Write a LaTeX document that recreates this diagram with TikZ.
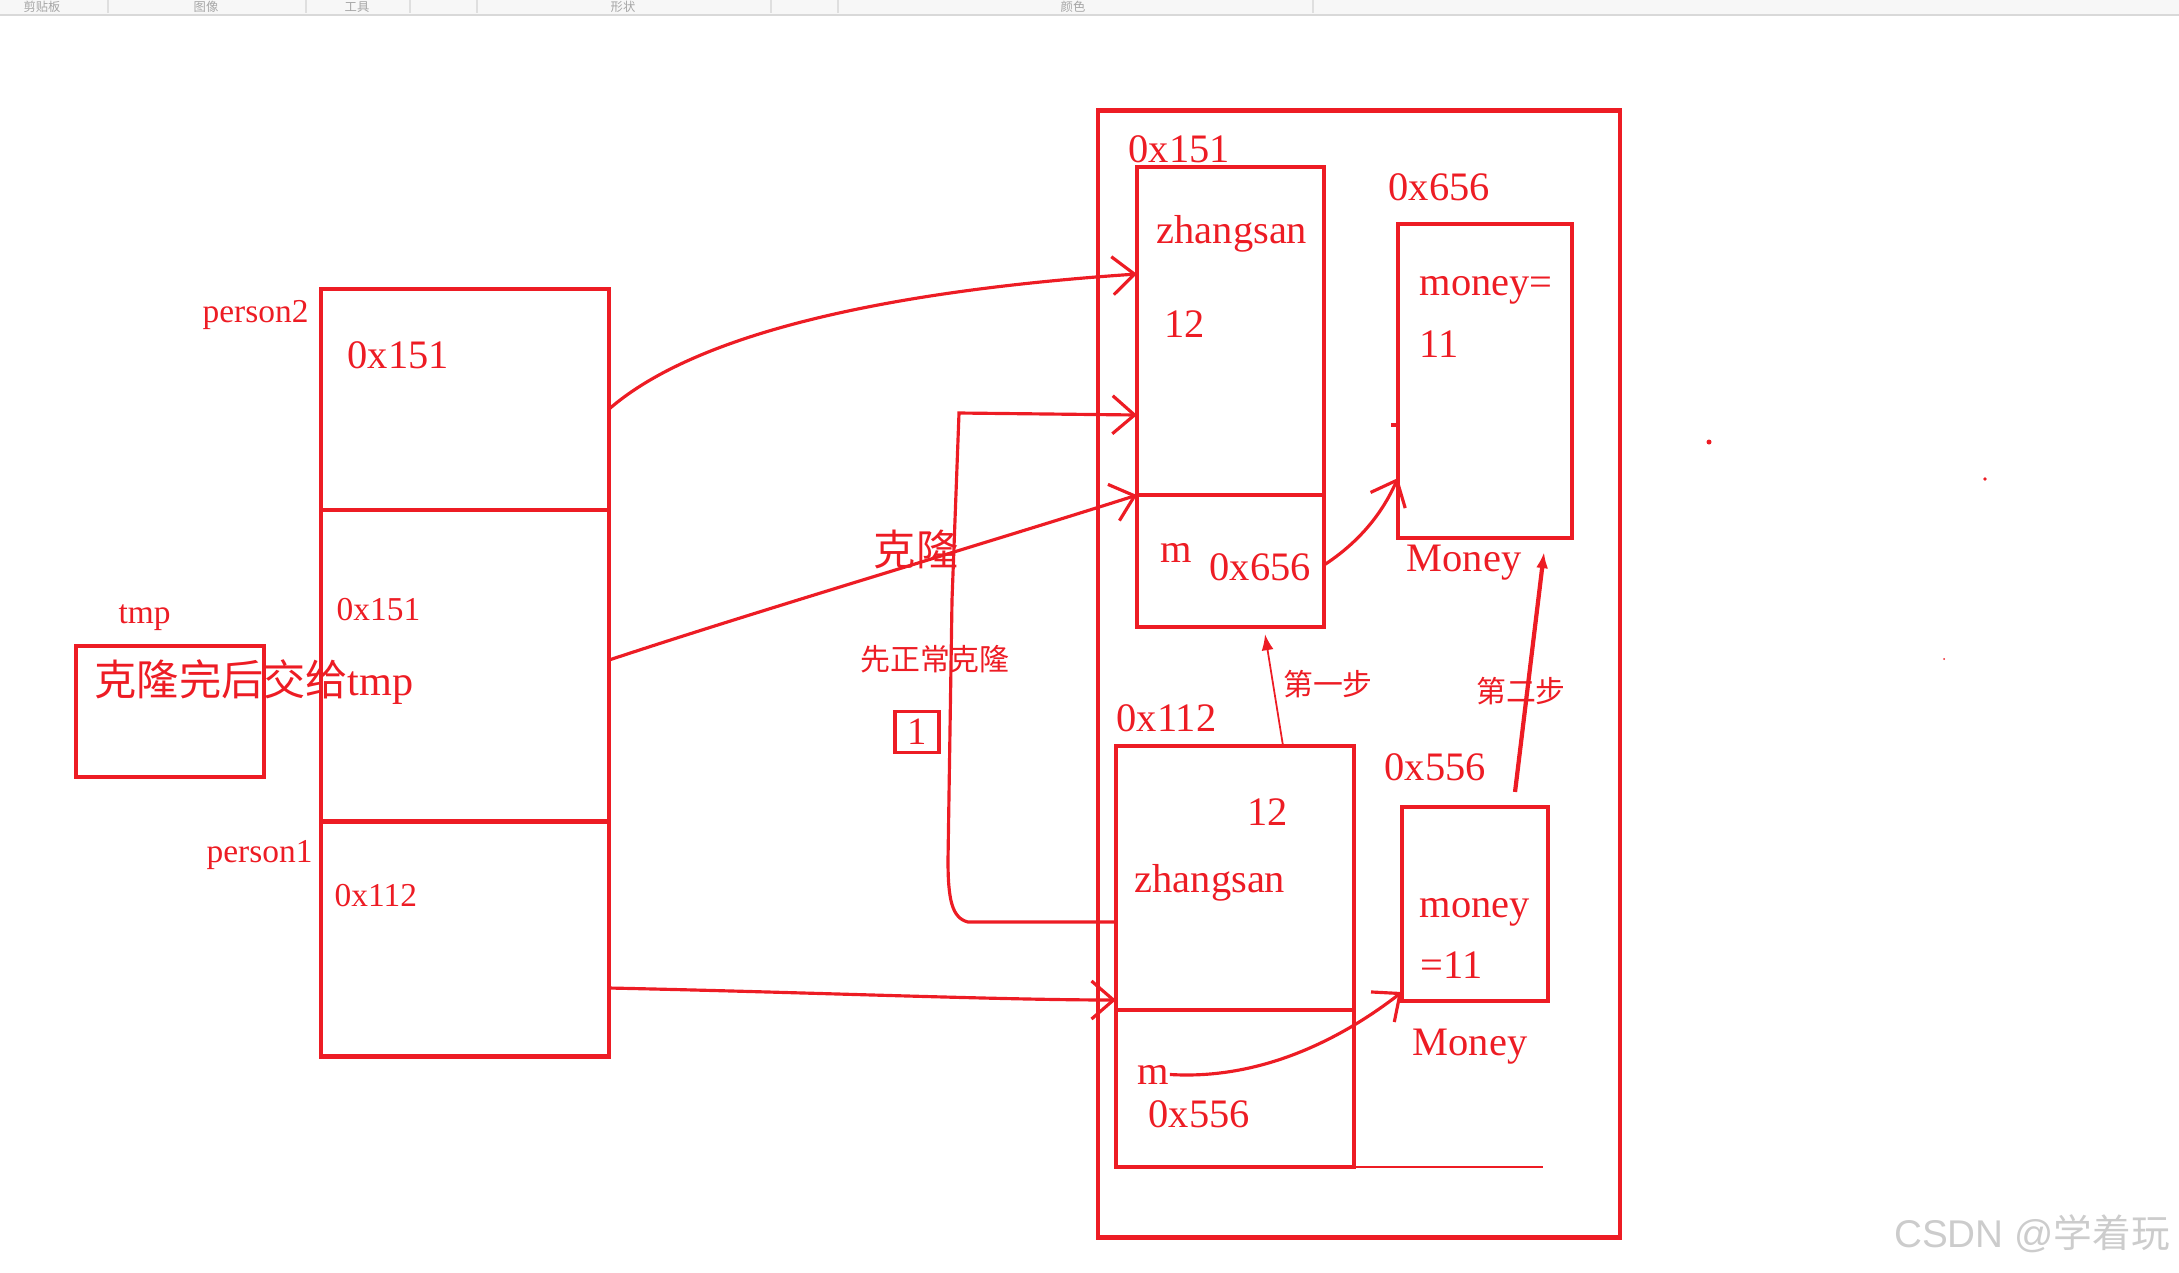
\documentclass[tikz,border=0pt]{standalone}
\usepackage{fontspec}
\setmainfont{Liberation Serif}
\newfontfamily\cjk{Noto Sans CJK SC}
\newfontfamily\wmfont{Liberation Sans}
\usetikzlibrary{positioning,arrows.meta}
\definecolor{paintred}{HTML}{ED1C24}

\begin{document}
\begin{tikzpicture}[
    x=0.01cm, y=-0.01cm,
    box/.style={rectangle, draw=paintred, line width=1.3pt, outer sep=0pt, inner sep=0pt},
    txt/.style={text=paintred, inner sep=0pt, font=\fontsize{11.5pt}{13pt}\selectfont},
    small/.style={text=paintred, inner sep=0pt, font=\fontsize{9.5pt}{11pt}\selectfont},
    cn/.style={text=paintred, inner sep=0pt, font=\cjk\fontsize{8.5pt}{10pt}\selectfont},
    ptr/.style={-{Straight Barb[length=0.22cm,width=0.38cm]}, draw=paintred, line width=0.9pt},
    steptip/.style={-{Latex[length=0.16cm,width=0.12cm]}, draw=paintred}
]
\useasboundingbox (0,0) rectangle (2179,1272);

% toolbar strip
\fill[gray!6] (0,0) rectangle (2179,15);
\draw[gray!30] (0,15) -- (2179,15);
\foreach \x/\t in {42/剪贴板, 206/图像, 357/工具, 623/形状, 1073/颜色}
  \node[font=\cjk\fontsize{3.5pt}{4pt}\selectfont, text=gray!70, inner sep=0pt] (tab\x) at (\x,7) {\t};
\foreach \x in {108,306,410,477,771,838,1313}
  \draw[gray!25] (\x,0) -- (\x,13);

% stack
\node[box, minimum width=2.88cm, minimum height=2.21cm] (slotA) at (465,399.5) {};
\node[box, minimum width=2.88cm, minimum height=3.11cm, below=0pt of slotA] (slotB) {};
\node[box, minimum width=2.88cm, minimum height=2.35cm, below=0pt of slotB] (slotC) {};
\node[box, minimum width=1.88cm, minimum height=1.31cm] (tmpbox) at (170,711.5) {};

\node[small, anchor=base west] (p2name) at (202,322) {person2};
\node[txt, anchor=base west] (p2val) at (347,368) {0x151};
\node[small, anchor=base west] (tmpval) at (336,620) {0x151};
\node[txt, anchor=west, font=\fontsize{12pt}{14pt}\selectfont] (tmpnote) at (94,682) {{\cjk 克隆完后交给}tmp};
\node[small, anchor=base west] (p1name) at (206,862) {person1};
\node[small, anchor=base west] (p1val) at (334,906) {0x112};
\node[small, anchor=base west] (tmpname) at (118,623) {tmp};

% heap
\node[box, minimum width=5.22cm, minimum height=11.26cm] (heap) at (1359,674) {};
\node[box, minimum width=1.87cm, minimum height=3.28cm] (obj2top) at (1230.5,331) {};
\node[box, minimum width=1.87cm, minimum height=1.32cm, below=0pt of obj2top] (obj2m) {};
\node[box, minimum width=1.74cm, minimum height=3.14cm] (money2) at (1485,381) {};
\node[box, minimum width=2.38cm, minimum height=2.64cm] (obj1top) at (1235,878) {};
\node[box, minimum width=2.38cm, minimum height=1.57cm, below=0pt of obj1top] (obj1m) {};
\node[box, minimum width=1.46cm, minimum height=1.94cm] (money1) at (1475,904) {};

\node[txt, anchor=base west] (obj2addr) at (1128,162) {0x151};
\node[txt, anchor=base west] (obj2name) at (1156,243) {zhangsan};
\node[txt, anchor=base west] (obj2age) at (1164,337) {12};
\node[txt, anchor=base west] (obj2mname) at (1160,562) {m};
\node[txt, anchor=base west] (obj2mval) at (1209,580) {0x656};
\node[txt, anchor=base west] (money2addr) at (1388,200) {0x656};
\node[txt, anchor=base west] (money2a) at (1419,295) {money=};
\node[txt, anchor=base west] (money2b) at (1419,357) {11};
\node[txt, anchor=base west] (money2type) at (1406,571) {Money};

\node[txt, anchor=base west] (obj1addr) at (1116,731) {0x112};
\node[txt, anchor=base west] (obj1age) at (1247,825) {12};
\node[txt, anchor=base west] (obj1name) at (1134,892) {zhangsan};
\node[txt, anchor=base west] (obj1mname) at (1137,1084) {m};
\node[txt, anchor=base west] (obj1mval) at (1148,1127) {0x556};
\node[txt, anchor=base west] (money1addr) at (1384,780) {0x556};
\node[txt, anchor=base west] (money1a) at (1419,917) {money};
\node[txt, anchor=base west] (money1b) at (1420,978) {=11};
\node[txt, anchor=base west] (money1type) at (1412,1055) {Money};

% middle labels
\node[txt, font=\cjk\fontsize{12pt}{14pt}\selectfont] (clonelbl) at (916,549) {克隆};
\node[cn] (firstlbl) at (935,659) {先正常克隆};
\node[box, line width=1.1pt, minimum width=0.44cm, minimum height=0.41cm, text=paintred, font=\fontsize{11pt}{12pt}\selectfont] (one) at (917,732) {1};
\node[cn] (step1lbl) at (1328,684) {第一步};
\node[cn] (step2lbl) at (1521,691) {第二步};

\node[font=\fontsize{11pt}{13pt}\selectfont, text=gray!40, inner sep=0pt] (mark) at (2032,1234) {{\wmfont CSDN @}{\cjk 学着玩}};

% pointers
\draw[ptr] (slotA.east |- 0,409) .. controls (700,330) and (900,290) .. (obj2top.west |- 0,274);
\draw[ptr] (slotB.east |- 0,660) .. controls (760,610) and (980,545) .. (obj2m.north west);
\draw[ptr] (slotC.east |- 0,988) .. controls (800,992) and (1000,1000) .. (obj1top.west |- 0,1000);
\draw[ptr] (obj1top.west |- 0,922) -- (968,922) .. controls (952,918) and (948,900) .. (948,860) -- (952,600) -- (959,413) -- (obj2top.west |- 0,415);
\draw[ptr] (obj2m.east |- 0,565) .. controls (1370,535) and (1388,500) .. (money2.west |- 0,478);
\draw[ptr] (obj1mname.east) .. controls (1260,1080) and (1340,1040) .. (money1.west |- 0,992);

\draw[steptip, line width=0.5pt] ([xshift=0.48cm]obj1top.north) -- ([xshift=0.345cm, yshift=-0.07cm]obj2m.south);
\draw[steptip, line width=1.2pt] ([xshift=0.40cm, yshift=0.15cm]money1.north) -- ([xshift=0.59cm, yshift=-0.14cm]money2.south);

\draw[paintred, line width=0.6pt] (obj1m.south east) -- ++(189,0);
\draw[paintred, line width=1pt] (1391,425) -- (money2.west |- 0,425);
\fill[paintred] (1709,442) circle (2.5);
\fill[paintred] (1985,479) circle (1.8);
\fill[paintred] (1944,659) circle (1);
\end{tikzpicture}
\end{document}
